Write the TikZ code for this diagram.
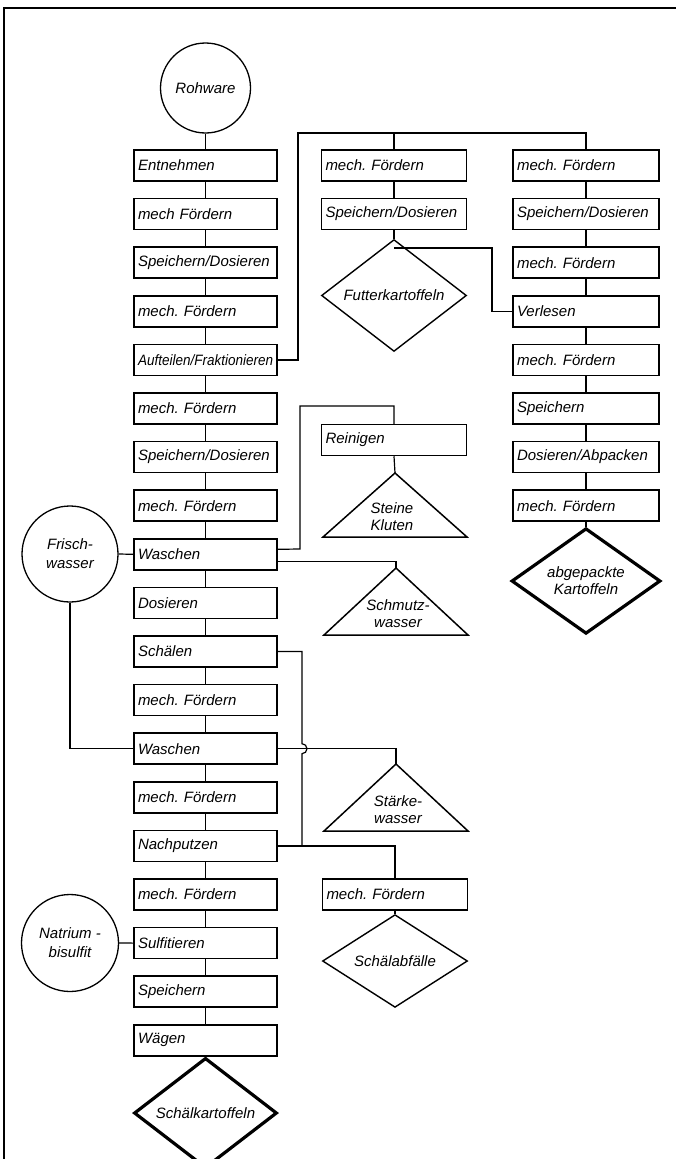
\documentclass[tikz,border=0pt]{standalone}
\usepackage{fontspec}
\setmainfont{Liberation Sans}
\usepackage{graphicx}
\usetikzlibrary{shapes.geometric}
\frenchspacing
\begin{document}
\begin{tikzpicture}[x=1pt,y=-1pt,
  font=\fontsize{15}{17}\selectfont\itshape\frenchspacing,
  procbox/.style={draw, line width=1.5pt, minimum height=31pt, text width=#1,
    inner xsep=4pt, inner ysep=0pt, align=left},
  procbox/.default=135pt,
  con/.style={line width=1.2pt},
  srcnode/.style={draw, circle, line width=1.3pt, inner sep=0pt, align=center},
  outnode/.style={draw, diamond, line width=1.4pt, inner sep=0pt, align=center},
  endnode/.style={draw, diamond, line width=3.2pt, inner sep=0pt, align=center},
  tri/.style={line width=1.5pt, line join=miter},
  txt/.style={inner sep=0pt, align=center}
]
\useasboundingbox (0,0) rectangle (676,1159);
% frame
\draw[line width=1.4pt] (676,8) -- (4,8) -- (4,1159);

% main column
\foreach \t [count=\i] in {Entnehmen, mech Fördern, Speichern/Dosieren, mech. Fördern,
  {\scalebox{0.9}[1]{Aufteilen/Fraktionieren}}, mech. Fördern, Speichern/Dosieren, mech. Fördern,
  Waschen, Dosieren, Schälen, mech. Fördern, Waschen, mech. Fördern, Nachputzen,
  mech. Fördern, Sulfitieren, Speichern, Wägen}
  \node[procbox] (a\i) at (205.5,{165.5+48.6*(\i-1)}) {\t};
\foreach \i [count=\j from 2] in {1,...,18}
  \draw[con] (a\i.south) -- (a\j.north);

% sources
\node[srcnode, minimum size=90pt] (roh) at (205.5,88) {Rohware};
\node[srcnode, minimum size=96pt] (fw) at (70,554) {Frisch-\\[2pt]wasser};
\node[srcnode, minimum size=97pt] (nb) at (70,943) {Natrium -\\[2pt]bisulfit};
\draw[con] (roh.south) -- (a1.north);
\draw[con] (fw.east) -- (a9.west);
\draw[con] (fw.south) |- (a13.west);
\draw[con] (nb.east) -- (a17.west);

% final product
\node[endnode, minimum width=143pt, minimum height=80pt] (sk) at (205.5,1113) {Schälkartoffeln};
\draw[con] (a19.south) -- (sk.north);

% middle column, upper
\node[procbox=137pt] (m1) at (394,165.5) {mech. Fördern};
\node[procbox=137pt] (m2) at (394,214.1) {Speichern/Dosieren};
\node[outnode, minimum width=145pt, minimum height=65pt] (fk) at (394,295.5) {Futterkartoffeln};
\draw[con] (m1.south) -- (m2.north);
\draw[con] (m2.south) -- (fk.north);

% right column
\foreach \t [count=\i] in {mech. Fördern, Speichern/Dosieren, mech. Fördern, Verlesen,
  mech. Fördern, Speichern, Dosieren/Abpacken, mech. Fördern}
  \node[procbox=138pt] (r\i) at (586,{165.5+48.6*(\i-1)}) {\t};
\foreach \i [count=\j from 2] in {1,...,7}
  \draw[con] (r\i.south) -- (r\j.north);
\node[endnode, minimum width=149pt, minimum height=81pt] (ak) at (586,581) {abgepackte\\Kartoffeln};
\draw[con] (r8.south) -- (ak.north);

% distribution from Aufteilen
\coordinate (top) at (298,133);
\draw[con] (a5.east) -| (top) -| (r1.north);
\draw[con] (m1.north) -- (m1.north |- top);
% Verlesen rejects to Futterkartoffeln
\coordinate (jf) at (394,248);
\draw[con] (r4.west) -| (492,248) -- (jf);

% Reinigen branch
\node[procbox=137pt] (rein) at (394,440) {Reinigen};
\coordinate (t1) at (395,473);
\draw[tri] (t1) -- ++(72,64) -- ++(-144,0) -- cycle;
\node[txt] (t1txt) at (392,517) {Steine\\Kluten};
\draw[con] ([yshift=5pt]a9.east) -- (300,549) -- (300,406) -| (rein.north);
\draw[con] (rein.south) -- (t1);

% Schmutzwasser
\coordinate (t2) at (396,568);
\draw[tri] (t2) -- ++(72,67) -- ++(-144,0) -- cycle;
\node[txt] (t2txt) at (398,614) {Schmutz-\\wasser};
\draw[con] ([yshift=-7pt]a9.east) -| (t2);

% Staerkewasser
\coordinate (t3) at (396,764);
\draw[tri] (t3) -- ++(72,67) -- ++(-144,0) -- cycle;
\node[txt] (t3txt) at (398,810) {Stärke-\\wasser};
\draw[con] (a13.east) -| (t3);

% Schaelen / Nachputzen -> Schaelabfaelle
\node[procbox=137pt] (mf) at (395,894.5) {mech. Fördern};
\node[outnode, minimum width=145pt, minimum height=66pt] (sa) at (395,961) {Schälabfälle};
\coordinate (jn) at (302,845.9);
\draw[con] (a11.east) -- (302,651.5) -- (302,743.7)
  arc[start angle=90, end angle=-90, radius=5pt] -- (jn);
\draw[con] (a15.east) -| (mf.north);
\draw[con] (mf.south) -- (sa.north);
\end{tikzpicture}
\end{document}
